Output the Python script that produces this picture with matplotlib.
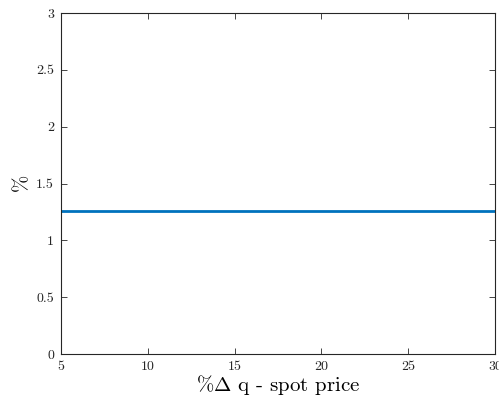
import matplotlib
matplotlib.use('Agg')
import matplotlib.pyplot as plt

plt.rcParams['font.family'] = 'serif'
plt.rcParams['font.serif'] = ['cmr10', 'DejaVu Serif']
plt.rcParams['mathtext.fontset'] = 'cm'
plt.rcParams['axes.unicode_minus'] = False

# data
shock = [5, 10, 15, 20, 25, 30]
response = [1.26, 1.26, 1.26, 1.26, 1.26, 1.26]

fig = plt.figure(figsize=(4.99, 4.03), dpi=100)
ax = fig.add_axes([0.1222, 0.1216, 0.8698, 0.8461])

ax.plot(shock, response, color='#0072BD', linewidth=2)

ax.set_xlim(5, 30)
ax.set_ylim(0, 3)
ax.set_xticks([5, 10, 15, 20, 25, 30])
ax.set_yticks([0, 0.5, 1, 1.5, 2, 2.5, 3])
ax.set_yticklabels(['0', '0.5', '1', '1.5', '2', '2.5', '3'])
ax.tick_params(direction='in', top=True, right=True, labelsize=10, length=4,
               width=0.6, colors='#262626', pad=5)
for s in ax.spines.values():
    s.set_linewidth(0.8)
    s.set_color('#262626')

ax.set_xlabel(r'$\%\Delta$ q - spot price', fontsize=15, labelpad=0)
ax.set_ylabel(r'$\%$', fontsize=15, labelpad=3)

fig.savefig('out.png', dpi=100)
